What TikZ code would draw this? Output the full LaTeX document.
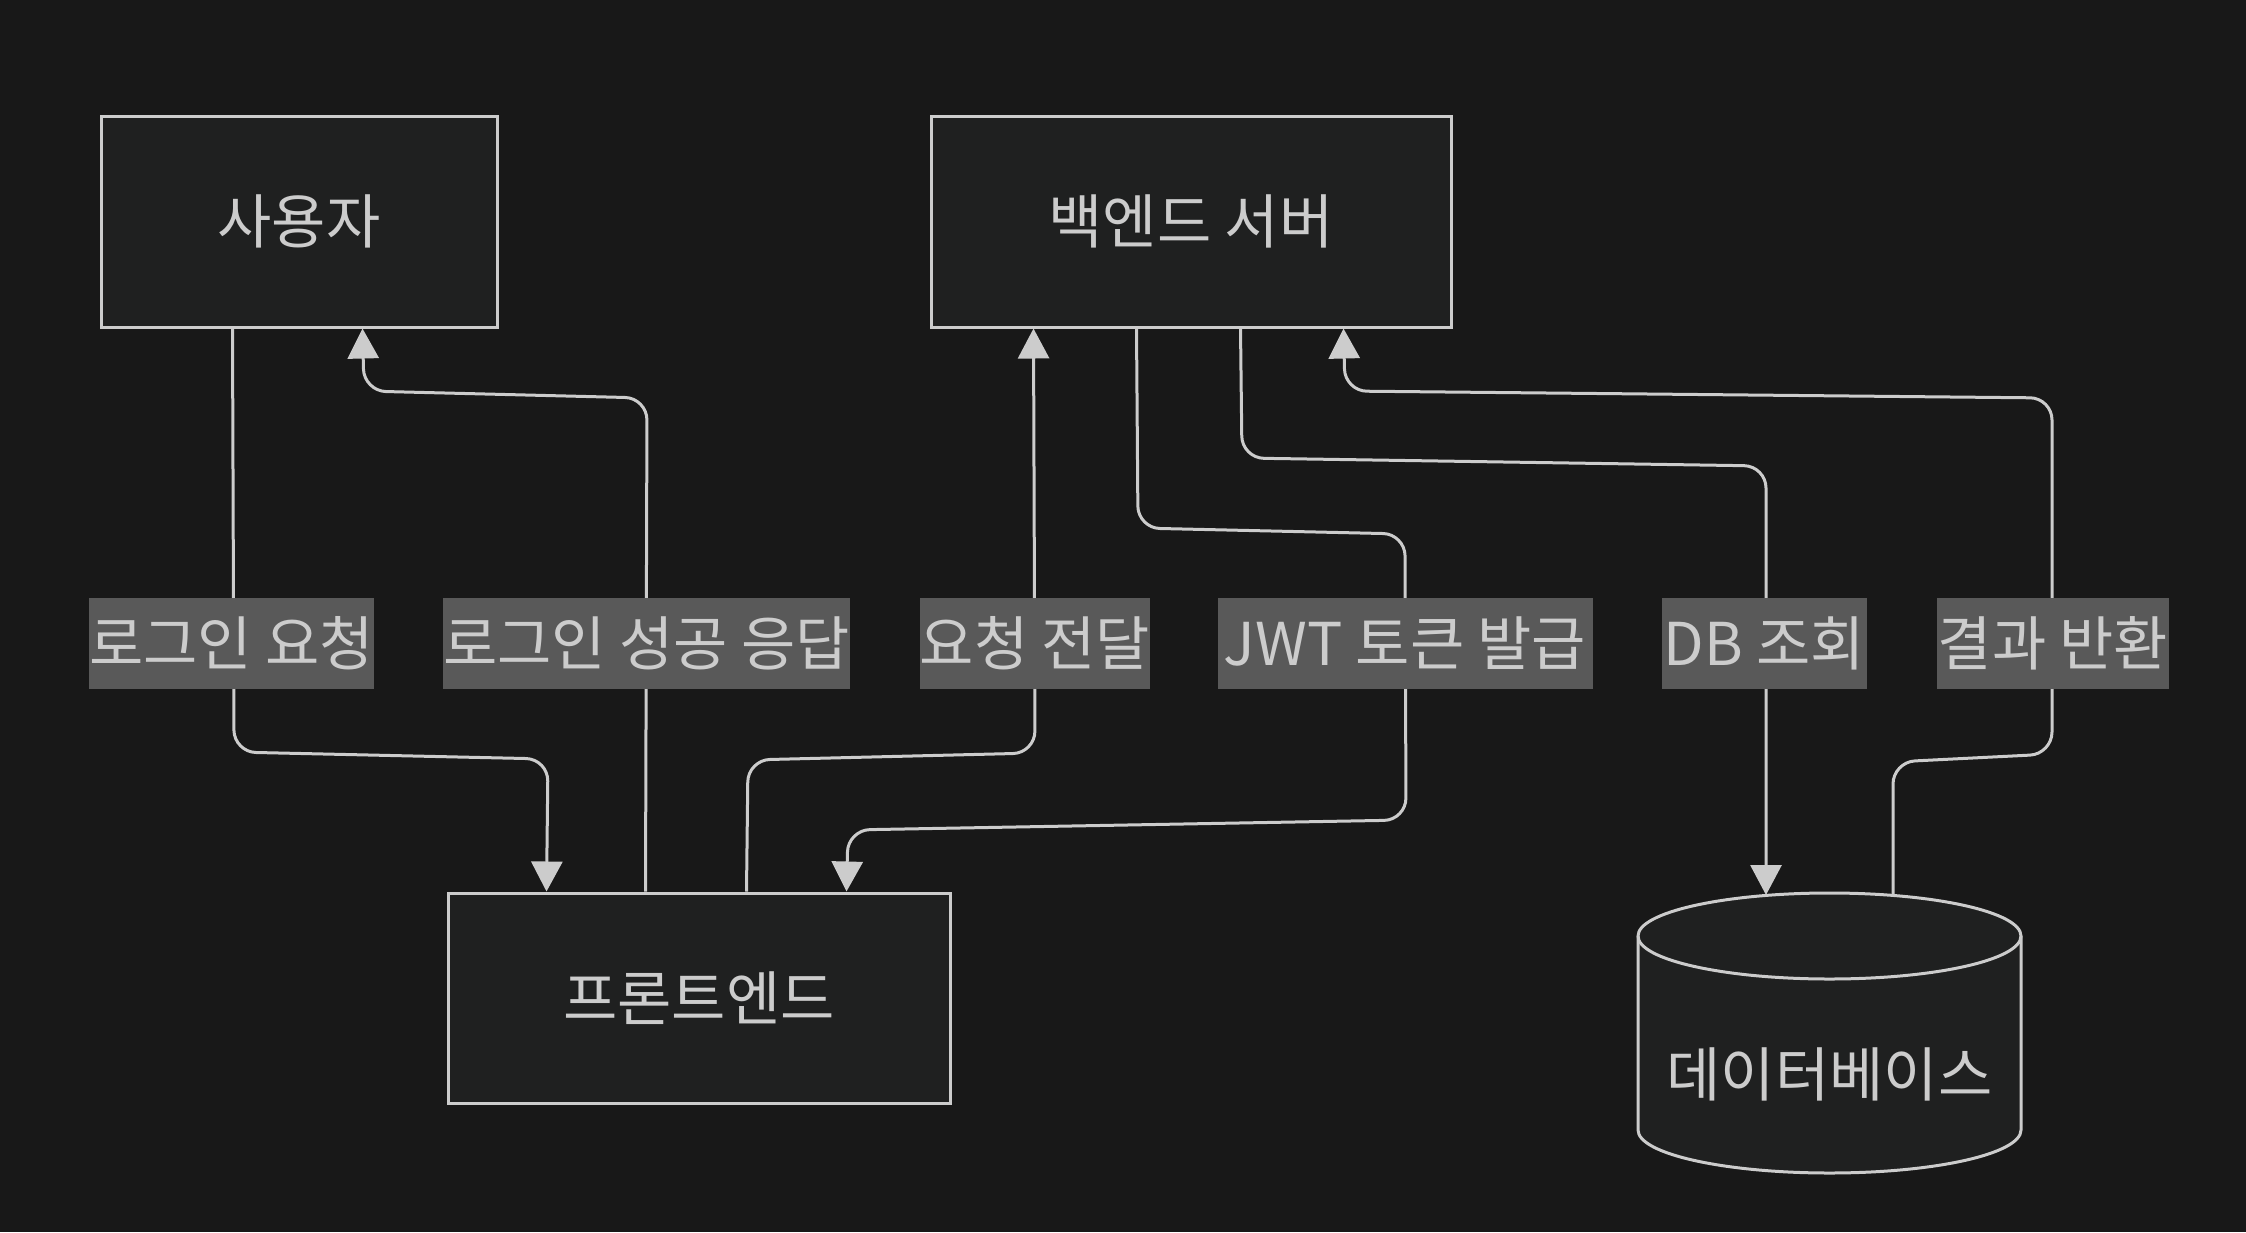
\documentclass[tikz,border=0pt]{standalone}
\usepackage{fontspec}
\newfontfamily\kr{Noto Sans CJK KR}
\usetikzlibrary{arrows.meta,calc}
\definecolor{bgc}{HTML}{181818}
\definecolor{boxc}{HTML}{1F2020}
\definecolor{strk}{HTML}{CCCCCC}
\definecolor{lblc}{HTML}{595959}
\definecolor{txtc}{HTML}{CCCCCC}
\begin{document}
\begin{tikzpicture}[x=1pt,y=-1pt,
  txt/.style={text=txtc, font=\kr\fontsize{59}{66}\selectfont},
  box/.style={txt, draw=strk, fill=boxc, line width=3pt, inner sep=0pt},
  lbl/.style={txt, fill=lblc, inner sep=0pt, minimum height=91pt},
  edge/.style={draw=strk, line width=3pt, rounded corners=22pt},
  arr/.style={-{Triangle[length=30pt,width=31pt]}},
  cyl/.style={draw=strk, line width=3pt}]
\fill[bgc] (0,0) rectangle (2246,1232);
\useasboundingbox (0,0) rectangle (2246,1232);

% nodes
\node[box, minimum width=396pt, minimum height=211pt] (user) at (299,221.5) {사용자};
\node[box, minimum width=520pt, minimum height=211pt] (back) at (1191,221.5) {백엔드 서버};
\node[box, minimum width=502pt, minimum height=210pt] (front) at (699,998) {프론트엔드};

% database cylinder
\fill[boxc] (1638,936) -- (1638,1130) arc[start angle=180,end angle=0,x radius=191.5,y radius=43]
  -- (2021,936) arc[start angle=0,end angle=-180,x radius=191.5,y radius=43] -- cycle;
\draw[cyl] (1638,936) -- (1638,1130) arc[start angle=180,end angle=0,x radius=191.5,y radius=43]
  -- (2021,936) arc[start angle=0,end angle=-180,x radius=191.5,y radius=43] -- cycle;
\draw[cyl] (1638,936) arc[start angle=180,end angle=0,x radius=191.5,y radius=43];
\node[txt] (db) at (1829.5,1074) {데이터베이스};

% label positions
\coordinate (c1) at (231.5,643.5);
\coordinate (c2) at (646.5,643.5);
\coordinate (c3) at (1035,643.5);
\coordinate (c4) at (1405,643.5);
\coordinate (c5) at (1764.5,643.5);
\coordinate (c6) at (2053,643.5);

% edges
\draw[edge,arr] ($(user.south west)+(133,0)$) -- (234,752) -- (548,759) -- ($(front.north west)+(100,0)$);
\draw[edge,arr] ($(front.north west)+(199,0)$) -- (647,398) -- (364,391) -- ($(user.south west)+(263,0)$);
\draw[edge,arr] ($(front.north west)+(300,0)$) -- (748,760) -- (1035,753) -- ($(back.south west)+(104,0)$);
\draw[edge,arr] ($(back.south west)+(207,0)$) -- (1138,528) -- (1405,534) -- (1406,820) -- (848,830) -- ($(front.north west)+(400,0)$);
\draw[edge,arr] ($(back.south west)+(311,0)$) -- (1242,458) -- (1766,466) -- ($(db)+(-63.5,-179)$);
\draw[edge,arr] ($(db)+(63.5,-179)$) -- (1893,762) -- (2052,754) -- (2052,398) -- (1345,391) -- ($(back.south west)+(414,0)$);

% labels
\node[lbl, minimum width=281pt] (l1) at (c1) {로그인 요청};
\node[lbl, minimum width=405pt] (l2) at (c2) {로그인 성공 응답};
\node[lbl, minimum width=230pt] (l3) at (c3) {요청 전달};
\node[lbl, minimum width=375pt] (l4) at (c4) {JWT 토큰 발급};
\node[lbl, minimum width=205pt] (l5) at (c5) {DB 조회};
\node[lbl, minimum width=232pt] (l6) at (c6) {결과 반환};
\end{tikzpicture}
\end{document}
